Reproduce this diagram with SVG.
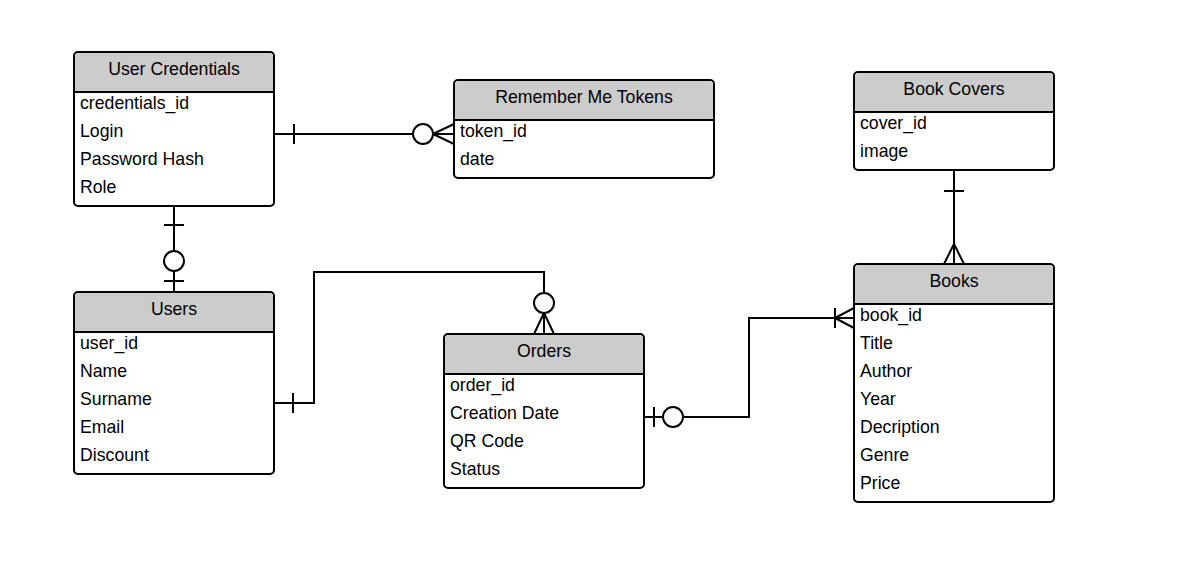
<svg xmlns="http://www.w3.org/2000/svg" width="1196" height="576" viewBox="0 0 1196 576">
<style>
.box{fill:#fff;stroke:#000;stroke-width:2}
.hdr{fill:#ccc;stroke:none}
.sep{stroke:#000;stroke-width:2}
.t{font-family:"Liberation Sans",Arial,sans-serif;font-size:17.7px;fill:#000;dominant-baseline:central}
.h{text-anchor:middle}
.c{fill:none;stroke:#000;stroke-width:2}
.o{fill:#fff;stroke:#000;stroke-width:2}
</style>
<rect width="1196" height="576" fill="#fff"/>
<g id="connectors">
<!-- UC - RMT -->
<path class="c" d="M274 134 H454"/>
<path class="c" d="M294 124 V144"/>
<path class="c" d="M433 134 L454 124 M433 134 L454 144"/>
<circle class="o" cx="423" cy="134" r="10"/>
<!-- UC - Users -->
<path class="c" d="M174 206 V292"/>
<path class="c" d="M164 225 H184 M164 281 H184"/>
<circle class="o" cx="174" cy="261" r="10"/>
<!-- Users - Orders -->
<path class="c" d="M274 403 H314 V272 H544 V334"/>
<path class="c" d="M293 393 V413"/>
<path class="c" d="M544 313 L534 334 M544 313 L554 334"/>
<circle class="o" cx="544" cy="303" r="10"/>
<!-- Orders - Books -->
<path class="c" d="M644 417 H749 V318 H854"/>
<path class="c" d="M654 407 V427"/>
<circle class="o" cx="673" cy="417" r="10"/>
<path class="c" d="M835 308 V328 M835 318 L854 308 M835 318 L854 328"/>
<!-- Book Covers - Books -->
<path class="c" d="M954 170 V264"/>
<path class="c" d="M944 191 H964"/>
<path class="c" d="M954 244 L944 264 M954 244 L964 264"/>
</g>
<g id="user-credentials">
<rect class="box" x="74" y="52" width="200" height="154" rx="4"/>
<path class="hdr" d="M75 92 V57 Q75 53 79 53 H269 Q273 53 273 57 V92 Z"/>
<path class="sep" d="M74 92 H274"/>
<text class="t h" x="174" y="69">User Credentials</text>
<text class="t" x="80" y="103">credentials_id</text>
<text class="t" x="80" y="131">Login</text>
<text class="t" x="80" y="159">Password Hash</text>
<text class="t" x="80" y="187">Role</text>
</g>
<g id="remember-me-tokens">
<rect class="box" x="454" y="80" width="260" height="98" rx="4"/>
<path class="hdr" d="M455 120 V85 Q455 81 459 81 H709 Q713 81 713 85 V120 Z"/>
<path class="sep" d="M454 120 H714"/>
<text class="t h" x="584" y="97">Remember Me Tokens</text>
<text class="t" x="460" y="131">token_id</text>
<text class="t" x="460" y="159">date</text>
</g>
<g id="users">
<rect class="box" x="74" y="292" width="200" height="182" rx="4"/>
<path class="hdr" d="M75 332 V297 Q75 293 79 293 H269 Q273 293 273 297 V332 Z"/>
<path class="sep" d="M74 332 H274"/>
<text class="t h" x="174" y="309">Users</text>
<text class="t" x="80" y="343">user_id</text>
<text class="t" x="80" y="371">Name</text>
<text class="t" x="80" y="399">Surname</text>
<text class="t" x="80" y="427">Email</text>
<text class="t" x="80" y="455">Discount</text>
</g>
<g id="orders">
<rect class="box" x="444" y="334" width="200" height="154" rx="4"/>
<path class="hdr" d="M445 374 V339 Q445 335 449 335 H639 Q643 335 643 339 V374 Z"/>
<path class="sep" d="M444 374 H644"/>
<text class="t h" x="544" y="351">Orders</text>
<text class="t" x="450" y="385">order_id</text>
<text class="t" x="450" y="413">Creation Date</text>
<text class="t" x="450" y="441">QR Code</text>
<text class="t" x="450" y="469">Status</text>
</g>
<g id="book-covers">
<rect class="box" x="854" y="72" width="200" height="98" rx="4"/>
<path class="hdr" d="M855 112 V77 Q855 73 859 73 H1049 Q1053 73 1053 77 V112 Z"/>
<path class="sep" d="M854 112 H1054"/>
<text class="t h" x="954" y="89">Book Covers</text>
<text class="t" x="860" y="123">cover_id</text>
<text class="t" x="860" y="151">image</text>
</g>
<g id="books">
<rect class="box" x="854" y="264" width="200" height="238" rx="4"/>
<path class="hdr" d="M855 304 V269 Q855 265 859 265 H1049 Q1053 265 1053 269 V304 Z"/>
<path class="sep" d="M854 304 H1054"/>
<text class="t h" x="954" y="281">Books</text>
<text class="t" x="860" y="315">book_id</text>
<text class="t" x="860" y="343">Title</text>
<text class="t" x="860" y="371">Author</text>
<text class="t" x="860" y="399">Year</text>
<text class="t" x="860" y="427">Decription</text>
<text class="t" x="860" y="455">Genre</text>
<text class="t" x="860" y="483">Price</text>
</g>
</svg>
